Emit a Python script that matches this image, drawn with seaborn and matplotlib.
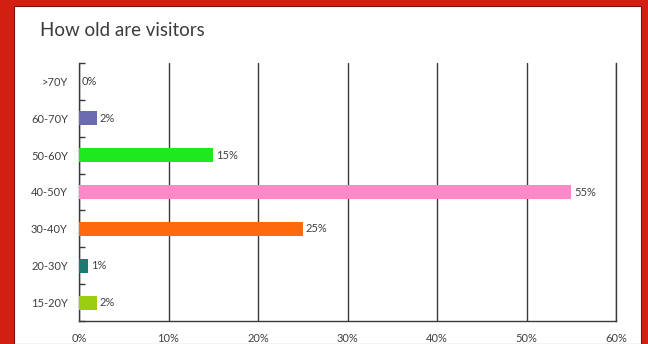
import matplotlib
matplotlib.use("Agg")
import matplotlib.pyplot as plt
from matplotlib.patches import Rectangle
from matplotlib.ticker import FixedLocator, NullLocator
import seaborn as sns
import pandas as pd

# Age groups, listed top to bottom
age_groups = [">70Y", "60-70Y", "50-60Y", "40-50Y", "30-40Y", "20-30Y", "15-20Y"]
shares = [0, 2, 15, 55, 25, 1, 2]
bar_colors = ["#7070b0", "#6a6aae", "#1ee81e", "#ff88c6", "#ff6a0e", "#1a7c70", "#9acd10"]
x_ticks = [0, 10, 20, 30, 40, 50, 60]
x_tick_labels = ["0%", "10%", "20%", "30%", "40%", "50%", "60%"]

df = pd.DataFrame({"age": age_groups, "share": shares})

sns.set_theme(style="white")
plt.rcParams["font.family"] = ["Lato", "DejaVu Sans"]

W, H = 648, 344
fig = plt.figure(figsize=(W / 100, H / 100), dpi=100, facecolor="#d21f12")

# White card on the red background
fig.patches.append(Rectangle((14 / W, 0), (641 - 14) / W, (H - 6) / H,
                             transform=fig.transFigure, facecolor="white",
                             edgecolor="#7a1010", linewidth=0.8, zorder=-5))

ax = fig.add_axes([79 / W, (H - 321) / H, (616 - 79) / W, (321 - 63) / H])
ax.set_facecolor("none")

sns.barplot(data=df, x="share", y="age", hue="age", palette=bar_colors,
            order=age_groups, orient="h", width=0.38, legend=False,
            saturation=1, linewidth=0, ax=ax, zorder=3)

for i, v in enumerate(shares):
    ax.annotate(f"{v}%", xy=(v, i), xytext=(2, 0), textcoords="offset points",
                va="center", ha="left", fontsize=8, color="#404040")

ax.set_xlim(0, 60)
ax.set_ylim(len(age_groups) - 0.5, -0.5)
ax.xaxis.set_major_locator(FixedLocator(x_ticks))
ax.xaxis.set_minor_locator(NullLocator())
ax.set_xticklabels(x_tick_labels)
ax.set_xlabel("")
ax.set_ylabel("")

ax.grid(axis="x", which="major", color="#3a3a3a", linewidth=1.0, zorder=1)
ax.grid(axis="y", which="both", visible=False)
ax.set_axisbelow(True)

for side in ("left", "bottom", "right"):
    ax.spines[side].set_visible(True)
    ax.spines[side].set_color("#3a3a3a")
    ax.spines[side].set_linewidth(1.0)
ax.spines["top"].set_visible(False)

ax.tick_params(axis="x", which="both", length=0, top=False, bottom=False,
               pad=9, labelsize=8, labelcolor="#404040")
ax.tick_params(axis="y", which="major", length=0, pad=8, labelsize=8, labelcolor="#404040")
ax.yaxis.set_minor_locator(FixedLocator([i - 0.5 for i in range(len(age_groups) + 1)]))
ax.tick_params(axis="y", which="minor", direction="in", length=4, width=1,
               color="#3a3a3a", left=True, right=False)

fig.text(40 / W, 1 - 31 / H, "How old are visitors", fontsize=13.5,
         color="#3c3c3c", ha="left", va="center")

fig.savefig("out.png", dpi=100, facecolor=fig.get_facecolor())
